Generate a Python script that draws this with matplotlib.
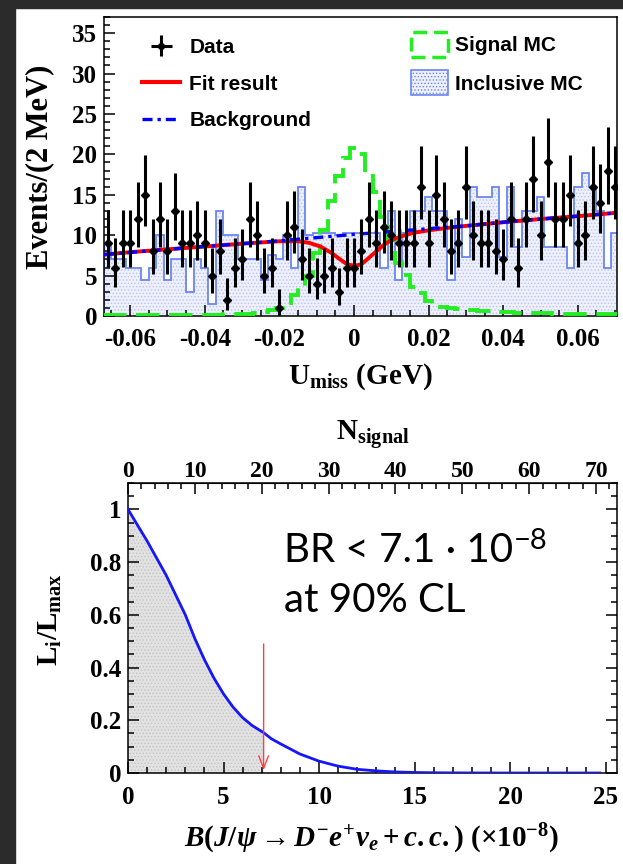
import matplotlib
matplotlib.use("Agg")
import matplotlib.pyplot as plt
import numpy as np
from matplotlib.patches import Patch, Rectangle
from matplotlib.lines import Line2D
from matplotlib.ticker import MultipleLocator, FixedLocator

plt.rcParams['font.family'] = ['Liberation Serif', 'DejaVu Serif']
plt.rcParams['font.weight'] = 'bold'
plt.rcParams['axes.labelweight'] = 'bold'
plt.rcParams['mathtext.fontset'] = 'custom'
plt.rcParams['mathtext.rm'] = 'Liberation Serif:bold'
plt.rcParams['mathtext.it'] = 'Liberation Serif:italic:bold'
plt.rcParams['mathtext.bf'] = 'Liberation Serif:bold'
plt.rcParams['hatch.linewidth'] = 0.6

# ---- top panel: U_miss distribution, 2 MeV bins ----
u_lo, u_hi, n_bins = -0.067, 0.071, 69
data_counts = [9, 6, 9, 9, 12, 15, 8, 12, 8, 13,
               9, 9, 10, 9, 5, 8, 2, 6, 7, 12,
               10, 5, 6, 1, 10, 11, 7, 5, 4, 5,
               6, 3, 6, 6, 8, 12, 9, 11, 10, 9,
               9, 9, 16, 9, 15, 12, 8, 9, 16, 10,
               9, 9, 8, 7, 12, 6, 12, 17, 10, 19,
               12, 12, 15, 9, 10, 16, 14, 18, 16]
inclusive_mc = [9, 7, 7, 6, 6, 4.5, 6, 10, 4.5, 7,
                7, 3, 7, 6, 1.5, 13, 10, 10, 7, 7,
                7, 4.5, 7.5, 7, 10, 6, 16, 10, 10.3, 10.3,
                10.3, 10, 10.3, 10.3, 10.3, 10.3, 10.3, 6, 13, 4.5,
                10.3, 13, 13, 14.7, 13, 13, 4.5, 12, 7.3, 16,
                14.7, 14.7, 16, 7.3, 16, 8.6, 13, 13, 14.7, 8.6,
                8.6, 8.6, 6, 16, 17.7, 16, 13, 6, 10.3]
signal_mc = [0.1, 0.1, 0.1, 0.1, 0.1, 0.1, 0.1, 0.1, 0.1, 0.1,
             0.1, 0.1, 0.1, 0.1, 0.1, 0.15, 0.2, 0.2, 0.25, 0.3,
             0.4, 0.5, 0.8, 1.0, 1.6, 2.6, 3.6, 4.9, 7.8, 10.6,
             14.2, 17.3, 19.5, 20.8, 20.1, 17.3, 15.4, 12.3, 9.4, 6.5,
             5.1, 3.6, 2.8, 1.8, 1.4, 1.1, 0.95, 0.85, 0.75, 0.7,
             0.65, 0.6, 0.55, 0.5, 0.45, 0.42, 0.4, 0.38, 0.35, 0.33,
             0.3, 0.3, 0.28, 0.27, 0.26, 0.25, 0.25, 0.24, 0.24]

fit_x = [-0.067, -0.06, -0.05, -0.04, -0.03, -0.02, -0.015, -0.012, -0.009, -0.006,
         -0.004, -0.002, 0.0, 0.002, 0.004, 0.006, 0.008, 0.010, 0.013, 0.016,
         0.02, 0.025, 0.03, 0.04, 0.05, 0.06, 0.071]
fit_y = [7.6, 7.9, 8.25, 8.6, 8.95, 9.25, 9.25, 9.05, 8.6, 7.8,
         7.1, 6.45, 6.2, 6.4, 7.2, 8.0, 8.8, 9.4, 9.9, 10.3,
         10.6, 10.9, 11.15, 11.6, 12.0, 12.35, 12.8]
bkg_x = [-0.067, -0.05, -0.03, -0.02, -0.01, 0.0, 0.01, 0.02, 0.03, 0.04, 0.05, 0.06, 0.071]
bkg_y = [7.6, 8.25, 8.95, 9.3, 9.7, 10.1, 10.45, 10.8, 11.15, 11.6, 12.0, 12.35, 12.8]

# ---- bottom panel: likelihood scan ----
br_scan = [0, 0.5, 1, 1.5, 2, 2.5, 3, 3.5, 4, 4.5, 5, 5.5, 6, 6.5, 7.1,
           7.5, 8, 9, 10, 11, 12, 13, 14, 15, 16, 17, 18, 20, 22, 24.7]
lik_scan = [1.0, 0.94, 0.88, 0.815, 0.75, 0.675, 0.60, 0.51, 0.43, 0.36, 0.30, 0.25, 0.21, 0.18, 0.153,
            0.13, 0.11, 0.072, 0.045, 0.026, 0.014, 0.008, 0.004, 0.002, 0.001, 0.0005, 0.0002, 0, 0, 0]
br_limit = 7.1
n_per_br = 2.857
n_ticks = [0, 10, 20, 30, 40, 50, 60, 70]

fig = plt.figure(figsize=(6.23, 8.64), dpi=100)
fig.add_artist(Rectangle((0, 0), 15 / 623, 1, transform=fig.transFigure, color='#2b2b2b', zorder=-5))
fig.add_artist(Rectangle((0, 1 - 8 / 864), 1, 8 / 864, transform=fig.transFigure, color='#2b2b2b', zorder=-5))

ax = fig.add_axes([104 / 623, 1 - 316 / 864, 513 / 623, 299 / 864])
edges = np.linspace(u_lo, u_hi, n_bins + 1)
centers = 0.5 * (edges[1:] + edges[:-1])
counts = np.array(data_counts, dtype=float)

ax.stairs(inclusive_mc, edges, fill=True, facecolor='#eef0fb', edgecolor='#b9c3f3', hatch='.....', lw=0, zorder=1)
ax.stairs(inclusive_mc, edges, color='#6a86f2', lw=1.3, zorder=2)
ax.stairs(signal_mc, edges, color='#22ee22', lw=2.8, ls=(0, (6, 2.5)), zorder=3)
ax.plot(fit_x, fit_y, color='red', lw=2.8, zorder=4)
ax.plot(bkg_x, bkg_y, color='#0000ff', lw=2.4, ls=(0, (3, 1.5, 1, 1.5)), zorder=5)

# asymmetric poisson errors (Gehrels approximation)
err_up = 1 + np.sqrt(counts + 0.75)
err_lo = counts - counts * (1 - 1 / (9 * counts) - 1 / (3 * np.sqrt(counts))) ** 3
eb = ax.errorbar(centers, counts, yerr=[err_lo, err_up], xerr=np.zeros_like(counts), fmt='D', color='black',
                 ms=4.5, elinewidth=2.2, capsize=0, zorder=6)

ax.set_xlim(-0.067, 0.0705)
ax.set_ylim(0, 37)
ax.xaxis.set_minor_locator(MultipleLocator(0.005))
ax.yaxis.set_major_locator(MultipleLocator(5))
ax.yaxis.set_minor_locator(MultipleLocator(1))
ax.set_xticks([-0.06, -0.04, -0.02, 0, 0.02, 0.04, 0.06])
ax.set_xticklabels(['-0.06', '-0.04', '-0.02', '0', '0.02', '0.04', '0.06'])
ax.tick_params(which='both', direction='in', top=False, right=False, width=1.1, labelsize=18)
ax.tick_params(which='major', length=8)
ax.tick_params(which='minor', length=4)
ax.tick_params(axis='x', pad=9)
ax.tick_params(axis='y', pad=5)
for s in ax.spines.values():
    s.set_linewidth(1.1)
ax.set_ylabel('Events/(2 MeV)', fontsize=22)
ax.yaxis.set_label_coords(-0.098, 0.5)
ax.set_xlabel(r'$\mathrm{U_{miss}}$ (GeV)', fontsize=21)
ax.xaxis.set_label_coords(0.5, -0.15)

leg_font = {'family': 'Liberation Sans', 'weight': 'bold', 'size': 15}
h1 = [eb,
      Line2D([], [], color='red', lw=3),
      Line2D([], [], color='#0000ff', lw=2.4, ls=(0, (3, 1.5, 1, 1.5)))]
leg1 = ax.legend(h1, ['Data', 'Fit result', 'Background'], loc='upper left', bbox_to_anchor=(0.075, 0.93),
                 frameon=False, prop=leg_font, handlelength=1.8, handletextpad=0.45, labelspacing=0.85,
                 borderpad=0, borderaxespad=0)
ax.add_artist(leg1)
h2 = [Patch(facecolor='none', edgecolor='#22ee22', lw=2.5, ls=(0, (4, 2))),
      Patch(facecolor='#eef0fb', edgecolor='#6a86f2', lw=1.2, hatch='.....')]
ax.legend(h2, ['Signal MC', 'Inclusive MC'], loc='upper left', bbox_to_anchor=(0.598, 0.95),
          frameon=False, prop=leg_font, handlelength=1.8, handleheight=1.45, handletextpad=0.3,
          labelspacing=0.65, borderpad=0, borderaxespad=0)

# ---- bottom panel ----
ax2 = fig.add_axes([128 / 623, 1 - 773 / 864, 489 / 623, 290 / 864])
br = np.array(br_scan)
lik = np.array(lik_scan)
ax2.fill_between(br, 0, lik, where=br <= br_limit, facecolor='#e2e2e2', edgecolor='#c4c4c4',
                 hatch='.....', lw=0, zorder=1)
ax2.plot(br, lik, color='#1515ff', lw=2, zorder=3)
ax2.annotate('', xy=(br_limit, 0), xytext=(br_limit, 0.5),
             arrowprops=dict(arrowstyle='->,head_length=0.9,head_width=0.35', color='#ff4040', lw=1), zorder=4)
ax2.set_xlim(0, 25.6)
ax2.set_ylim(0, 1.1)
ax2.xaxis.set_major_locator(MultipleLocator(5))
ax2.xaxis.set_minor_locator(MultipleLocator(1))
ax2.yaxis.set_minor_locator(MultipleLocator(0.05))
ax2.set_yticks([0, 0.2, 0.4, 0.6, 0.8, 1])
ax2.set_yticklabels(['0', '0.2', '0.4', '0.6', '0.8', '1'])
ax2.tick_params(which='both', direction='in', top=False, right=True, width=1.1, labelsize=18)
ax2.tick_params(which='major', length=8)
ax2.tick_params(which='minor', length=4)
ax2.tick_params(axis='x', pad=9)
ax2.tick_params(axis='y', pad=5)
for s in ax2.spines.values():
    s.set_linewidth(1.1)

sec = ax2.secondary_xaxis('top', functions=(lambda x: x * n_per_br, lambda n: n / n_per_br))
sec.xaxis.set_major_locator(FixedLocator(n_ticks))
sec.xaxis.set_minor_locator(MultipleLocator(2))
sec.tick_params(which='both', direction='in', width=1.1, labelsize=17, pad=1)
sec.tick_params(which='major', length=8)
sec.tick_params(which='minor', length=4)
sec.set_xlabel(r'$\mathrm{N_{signal}}$', fontsize=21, labelpad=15)

ax2.set_ylabel(r'$\mathrm{L_i/L_{max}}$', fontsize=21)
ax2.yaxis.set_label_coords(-0.13, 0.53)
ax2.set_xlabel(r'$\mathit{B(J/\psi\rightarrow D^{-}e^{+}\nu_{e}+c.c.)}\ (\times10^{-8})$', fontsize=21)
ax2.xaxis.set_label_coords(0.497, -0.17)

t = ax2.text(0.318, 0.728, 'BR < 7.1 \u00b7 10', transform=ax2.transAxes, fontsize=29,
             family='Lato', weight='normal', ha='left', va='baseline')
ax2.annotate('\u22128', xy=(1, 1), xycoords=t, xytext=(1, 3), textcoords='offset points',
             fontsize=21, family='Lato', weight='normal', ha='left', va='top')
ax2.text(0.318, 0.555, 'at 90% CL', transform=ax2.transAxes, fontsize=29,
         family='Lato', weight='normal', ha='left', va='baseline')

fig.savefig('out.png', dpi=100)
